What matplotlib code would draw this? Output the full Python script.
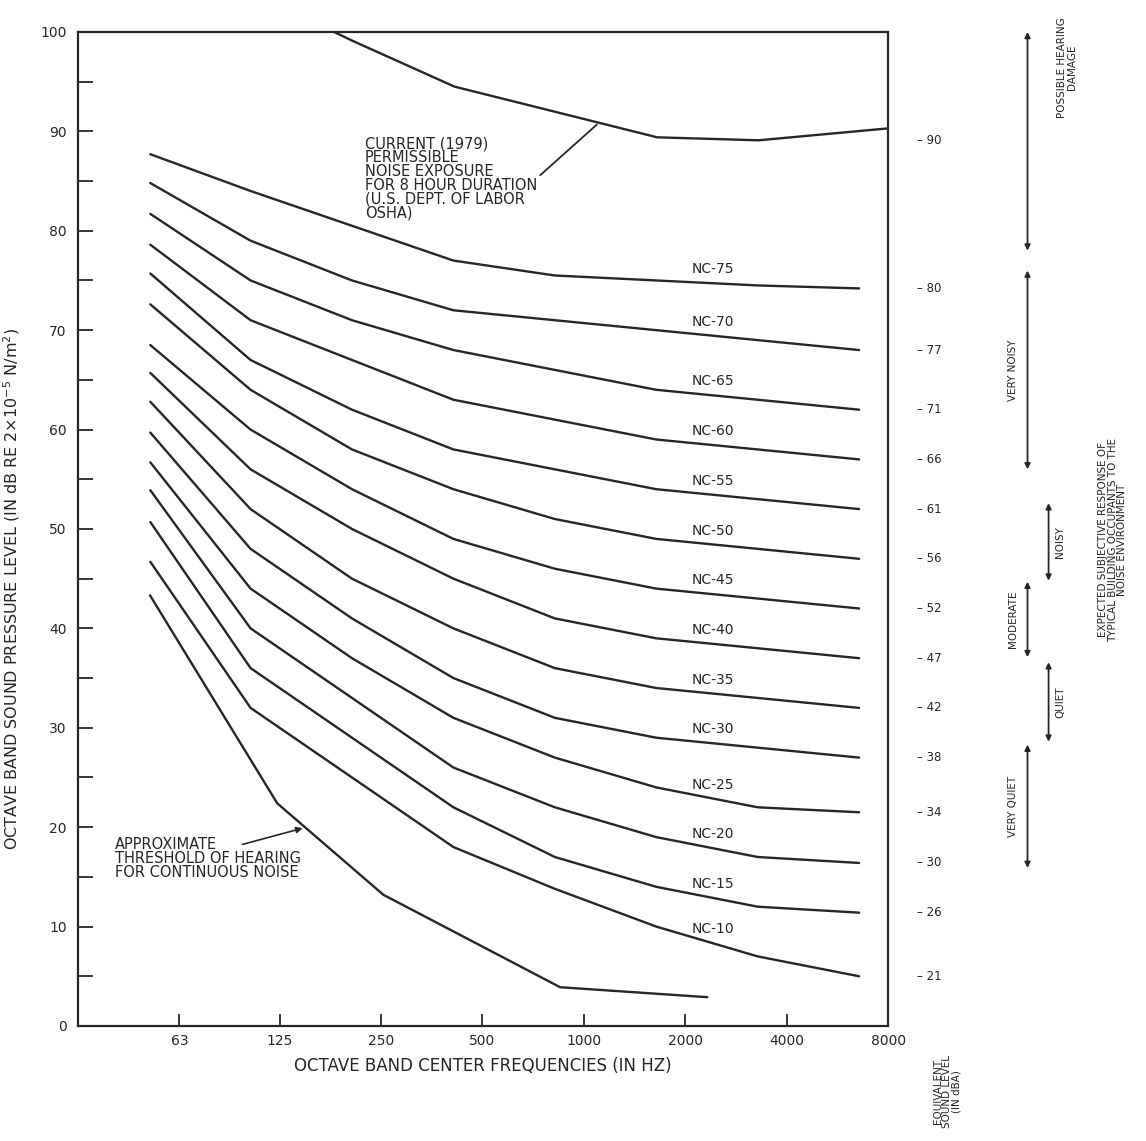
import numpy as np
import matplotlib
matplotlib.use('Agg')
import matplotlib.pyplot as plt
from matplotlib.transforms import blended_transform_factory

# Octave band centres and the NC curve levels (dB) in each band
bands = [63, 125, 250, 500, 1000, 2000, 4000, 8000]
band_labels = ['63', '125', '250', '500', '1000', '2000', '4000', '8000']

nc75 = [87.7, 84.0, 80.5, 77.0, 75.5, 75.0, 74.5, 74.2]
nc70 = [84.8, 79.0, 75.0, 72.0, 71.0, 70.0, 69.0, 68.0]
nc65 = [81.7, 75.0, 71.0, 68.0, 66.0, 64.0, 63.0, 62.0]
nc60 = [78.6, 71.0, 67.0, 63.0, 61.0, 59.0, 58.0, 57.0]
nc55 = [75.7, 67.0, 62.0, 58.0, 56.0, 54.0, 53.0, 52.0]
nc50 = [72.6, 64.0, 58.0, 54.0, 51.0, 49.0, 48.0, 47.0]
nc45 = [68.5, 60.0, 54.0, 49.0, 46.0, 44.0, 43.0, 42.0]
nc40 = [65.7, 56.0, 50.0, 45.0, 41.0, 39.0, 38.0, 37.0]
nc35 = [62.8, 52.0, 45.0, 40.0, 36.0, 34.0, 33.0, 32.0]
nc30 = [59.7, 48.0, 41.0, 35.0, 31.0, 29.0, 28.0, 27.0]
nc25 = [56.7, 44.0, 37.0, 31.0, 27.0, 24.0, 22.0, 21.5]
nc20 = [53.9, 40.0, 33.0, 26.0, 22.0, 19.0, 17.0, 16.4]
nc15 = [50.7, 36.0, 29.0, 22.0, 17.0, 14.0, 12.0, 11.4]
nc10 = [46.7, 32.0, 25.0, 18.0, 13.8, 10.0, 7.0, 5.0]
nc_names = ['NC-75', 'NC-70', 'NC-65', 'NC-60', 'NC-55', 'NC-50', 'NC-45',
            'NC-40', 'NC-35', 'NC-30', 'NC-25', 'NC-20', 'NC-15', 'NC-10']

# Equivalent sound level (dBA) for each curve, top one is the OSHA limit
dba_labels = ['90', '80', '77', '71', '66', '61', '56', '52', '47', '42',
              '38', '34', '30', '26', '21']

# OSHA 8 hour permissible exposure
osha_freq = [103, 206, 413, 1650, 3300, 8000]
osha_level = [104.0, 99.1, 94.5, 89.4, 89.1, 90.3]

# Approximate threshold of hearing for continuous noise
thr_freq = [51.6, 123, 254, 850, 2320]
thr_level = [43.3, 22.4, 13.2, 3.9, 2.9]

# Subjective response ranges (dB on the left scale)
resp_names = ['POSSIBLE HEARING\nDAMAGE', 'VERY NOISY', 'NOISY', 'MODERATE',
              'QUIET', 'VERY QUIET']
resp_low = [78.0, 56.0, 44.8, 37.1, 28.6, 15.9]
resp_high = [100.0, 76.0, 52.6, 44.7, 36.6, 28.3]

nc_curves = [nc75, nc70, nc65, nc60, nc55, nc50, nc45, nc40, nc35, nc30,
             nc25, nc20, nc15, nc10]

ink = '#262626'
plt.rcParams['font.family'] = ['DejaVu Sans']

fig = plt.figure(figsize=(11.46, 11.41), dpi=100)
ax = fig.add_axes([0.068, 0.1008, 0.707, 0.8712])

# curves are drawn a little left of each band centre
shift = 0.82
x_nc = np.array(bands) * shift
for name, levels in zip(nc_names, nc_curves):
    ax.plot(x_nc, levels, color=ink, lw=1.7, solid_capstyle='round')

ax.plot(osha_freq, osha_level, color=ink, lw=1.7)
ax.plot(thr_freq, thr_level, color=ink, lw=1.7)

ax.set_xscale('log', base=2)
ax.set_xlim(31.5, 8000)
ax.set_ylim(0, 100)
ax.set_xticks(bands)
ax.set_xticklabels(band_labels)
ax.xaxis.set_minor_locator(matplotlib.ticker.NullLocator())
ax.set_yticks(np.arange(0, 101, 10))
ax.set_yticks(np.arange(5, 100, 10), minor=True)

ax.tick_params(axis='y', which='both', direction='in', length=11, width=1.3,
               labelsize=10, pad=8, colors=ink)
ax.tick_params(axis='x', which='major', direction='in', length=9, width=1.3,
               labelsize=10, pad=6, colors=ink)
for sp in ax.spines.values():
    sp.set_linewidth(1.6)
    sp.set_color(ink)

ax.set_xlabel('OCTAVE BAND CENTER FREQUENCIES (IN HZ)', fontsize=12,
              color=ink, labelpad=6)
ax.set_ylabel(r'OCTAVE BAND SOUND PRESSURE LEVEL (IN dB RE 2$\times$10$^{-5}$ N/m$^2$)',
              fontsize=11.5, color=ink)
ax.yaxis.set_label_coords(-0.069, 0.44)

# NC labels just above each curve
label_x = 2420
for name, levels in zip(nc_names, nc_curves):
    y = np.interp(np.log2(label_x), np.log2(x_nc), levels)
    ax.annotate(name, xy=(label_x, y), xytext=(0, 10), textcoords='offset points',
                ha='center', va='center', fontsize=10, color=ink)

# OSHA note
ax.text(0.354, 0.895, 'CURRENT (1979)\nPERMISSIBLE\nNOISE EXPOSURE\nFOR 8 HOUR DURATION\n'
        '(U.S. DEPT. OF LABOR\nOSHA)', transform=ax.transAxes, ha='left', va='top',
        fontsize=10.5, linespacing=0.9, color=ink)
osha_pt = 1108
osha_y = np.interp(np.log2(osha_pt), np.log2(osha_freq), osha_level)
ax.annotate('', xy=(osha_pt, osha_y), xytext=(0.568, 0.854), textcoords='axes fraction',
            arrowprops=dict(arrowstyle='-', color=ink, lw=1.3))

# hearing threshold note
ax.text(0.046, 0.19, 'APPROXIMATE\nTHRESHOLD OF HEARING\nFOR CONTINUOUS NOISE',
        transform=ax.transAxes, ha='left', va='top', fontsize=10.5,
        linespacing=0.9, color=ink)
thr_pt = 149
thr_y = np.interp(np.log2(thr_pt), np.log2(thr_freq), thr_level)
ax.annotate('', xy=(thr_pt, thr_y), xytext=(0.2, 0.182), textcoords='axes fraction',
            arrowprops=dict(arrowstyle='-|>', color=ink, lw=1.2, mutation_scale=9))

# dBA scale to the right of the frame
trans = blended_transform_factory(ax.transAxes, ax.transData)
dba_y = [min(osha_level)] + [c[-1] for c in nc_curves]
for lab, y in zip(dba_labels, dba_y):
    ax.text(1.036, y, '\u2013 ' + lab, transform=trans, ha='left', va='center',
            fontsize=8.5, color=ink, clip_on=False)

# subjective response arrows
arrow_x = [1.172, 1.172, 1.198, 1.172, 1.198, 1.172]
text_x = [1.221, 1.154, 1.212, 1.154, 1.212, 1.154]
for name, lo, hi, axx, tx in zip(resp_names, resp_low, resp_high, arrow_x, text_x):
    ax.annotate('', xy=(axx, lo), xytext=(axx, hi), xycoords=trans, textcoords=trans,
                arrowprops=dict(arrowstyle='<|-|>', color=ink, lw=1.3,
                                mutation_scale=8, shrinkA=0, shrinkB=0),
                annotation_clip=False)
    ty = (lo + hi) / 2 if name != resp_names[0] else 96.4
    ax.text(tx, ty, name, transform=trans, rotation=90, ha='center', va='center',
            fontsize=7.5, color=ink, linespacing=0.95, clip_on=False)

ax.text(1.277, 48.9, 'EXPECTED SUBJECTIVE RESPONSE OF\nTYPICAL BUILDING OCCUPANTS TO THE\n'
        'NOISE ENVIRONMENT', transform=trans, rotation=90, ha='center', va='center',
        fontsize=7.5, color=ink, linespacing=0.95, clip_on=False)
ax.text(1.073, -6.6, 'EQUIVALENT\nSOUND LEVEL\n(IN dBA)', transform=trans,
        rotation=90, ha='center', va='center', fontsize=7.5, color=ink,
        linespacing=0.95, clip_on=False)

fig.savefig('out.png', dpi=100, facecolor='white')
